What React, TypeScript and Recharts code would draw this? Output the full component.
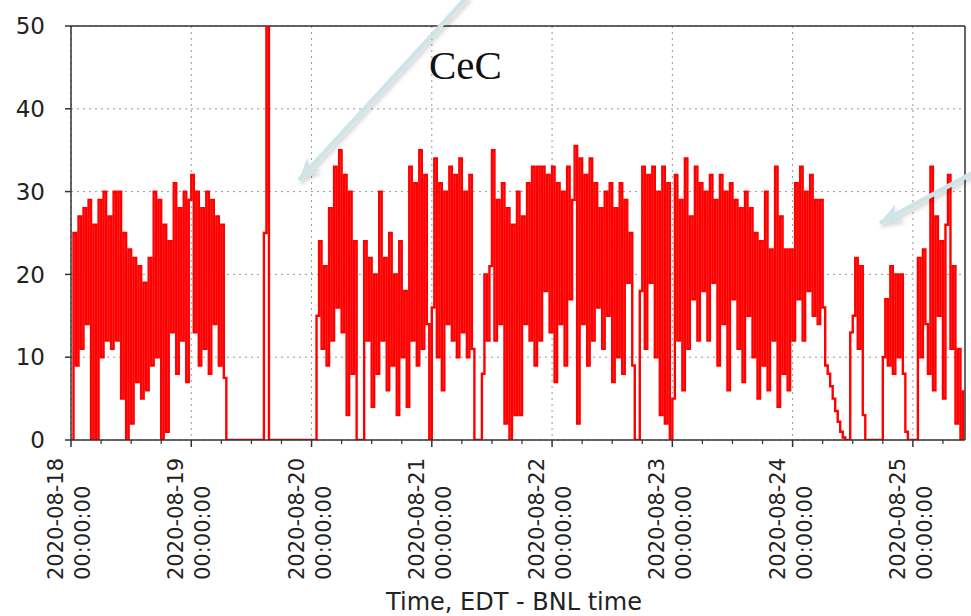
import { LineChart, Line, XAxis, YAxis, CartesianGrid, ReferenceLine } from "recharts";

// CeC signal, one reading per 30 min, one list per day (starting 00:00 EDT)
const day18 = [0, 25, 9, 27, 11, 28, 14, 29, 0, 26, 0, 29, 10, 30, 12, 27, 11, 30, 12, 30, 5, 25, 0, 23, 2, 22, 7, 21, 5, 19, 6, 22, 9, 30, 10, 29, 0, 26, 1, 24, 13, 31, 8, 28, 12, 30, 7, 29];
const day19 = [32, 13, 30, 9, 28, 11, 30, 8, 29, 14, 27, 9, 26, 7.5, 0, 0, 0, 0, 0, 0, 0, 0, 0, 0, 0, 0, 0, 0, 0, 25, 50, 0, 0, 0, 0, 0, 0, 0, 0, 0, 0, 0, 0, 0, 0, 0, 0, 0];
const day20 = [0, 0, 15, 24, 11, 21, 9, 28, 12, 33, 16, 35, 13, 32, 3, 30, 8, 24, 0, 0, 0, 24, 12, 22, 4, 20, 8, 30, 12, 22, 6, 25, 9, 20, 3, 24, 10, 18, 4, 33, 12, 31, 9, 35, 11, 32, 14, 0];
const day21 = [16, 34, 10, 31, 6, 30, 14, 33, 12, 32, 10, 34, 13, 30, 10, 32, 11, 0, 0, 0, 8, 20, 12, 21, 35, 12, 29, 14, 31, 2, 28, 0, 26, 3, 30, 3, 27, 14, 31, 12, 33, 9, 33, 12, 33, 18, 32, 13];
const day22 = [33, 7, 31, 14, 30, 9, 33, 17, 29, 35.5, 2, 34, 14, 32, 9, 34, 12, 31, 16, 28, 11, 30, 15, 31, 7, 28, 10, 31, 8, 29, 19, 25, 9, 0, 0, 18, 33, 11, 32, 19, 33, 10, 30, 3, 33, 2, 31, 0];
const day23 = [5, 32, 12, 29, 6, 34, 11, 27, 17, 33, 12, 31, 18, 30, 12, 32, 19, 29, 9, 32, 14, 30, 6, 31, 17, 29, 11, 28, 7, 30, 15, 28, 10, 25, 5, 24, 9, 30, 6, 23, 12, 33, 4, 27, 8, 23, 6, 23];
const day24 = [12, 31, 17, 33, 12, 30, 18, 32, 15, 29, 14, 29, 16, 9, 8, 6.5, 5, 3.5, 2.2, 1, 0.3, 0, 0, 13, 15, 22, 11, 21, 3, 0, 0, 0, 0, 0, 0, 0, 10, 17, 9, 21, 8, 20, 10, 20, 8, 1, 0, 0];
const day25 = [0, 0, 22, 10, 23, 14, 8, 33, 6, 27, 15, 24, 5, 26, 32, 11, 21, 2, 11, 0, 6];

const days = [day18, day19, day20, day21, day22, day23, day24, day25];
const dayLabels = ["2020-08-18", "2020-08-19", "2020-08-20", "2020-08-21", "2020-08-22", "2020-08-23", "2020-08-24", "2020-08-25"];
const dayTicks = [0, 24, 48, 72, 96, 120, 144, 168];
// every 6 h; the day marks get the long tick and a label
const hourTicks = [0, 6, 12, 18, 24, 30, 36, 42, 48, 54, 60, 66, 72, 78, 84, 90, 96, 102, 108, 114, 120, 126, 132, 138, 144, 150, 156, 162, 168, 174];
const yTicks = [0, 10, 20, 30, 40, 50];
const X_MAX = 178.4;

// hours since 2020-08-18 00:00
const data = days.flatMap((vals, d) => vals.map((v, i) => ({ h: d * 24 + i * 0.5, v })));

const FONT = "'DejaVu Sans', sans-serif";

const TimeTick = ({ x, y, payload }: any) => {
  const h = payload.value;
  const major = h % 24 === 0;
  return (
    <g>
      <line x1={x} y1={y} x2={x} y2={y + (major ? 7 : 4)} stroke="#333" strokeWidth={major ? 1.5 : 1.2} />
      {major && (
        <g transform={`translate(${x},${y + 140}) rotate(-90)`}>
          <text x={0} y={-8} textAnchor="start" fontSize={21} fill="#222" fontFamily={FONT}>{dayLabels[h / 24]}</text>
          <text x={0} y={19} textAnchor="start" fontSize={21} fill="#222" fontFamily={FONT}>00:00:00</text>
        </g>
      )}
    </g>
  );
};

const NoLabel = () => null;

const dayGrid = ({ xAxis, offset }: any) =>
  dayTicks.map((t) =>
    xAxis && typeof xAxis.scale === "function"
      ? xAxis.scale(t)
      : offset.left + (t / X_MAX) * offset.width
  );

export default function App() {
  return (
    <div style={{ position: "relative", width: 971, height: 616, background: "#fff" }}>
      <style>{"body{margin:0}"}</style>
      <LineChart width={971} height={616} data={data} margin={{ top: 26, right: 0, bottom: 0, left: 0 }}>
        <CartesianGrid stroke="#999" strokeDasharray="2 4" verticalCoordinatesGenerator={dayGrid} />
        <XAxis
          dataKey="h"
          type="number"
          domain={[0, X_MAX]}
          ticks={hourTicks}
          interval={0}
          allowDataOverflow
          height={176}
          tickSize={0}
          tickMargin={0}
          tickLine={false}
          tick={<TimeTick />}
          axisLine={{ stroke: "#333", strokeWidth: 1.5 }}
        />
        <YAxis
          domain={[0, 50]}
          ticks={yTicks}
          interval={0}
          allowDataOverflow
          width={71}
          tickSize={6}
          tickMargin={20}
          tick={{ fontSize: 23, fill: "#222", fontFamily: FONT }}
          axisLine={{ stroke: "#333", strokeWidth: 1.5 }}
          tickLine={{ stroke: "#333", strokeWidth: 1.5 }}
        />
        <YAxis
          yAxisId="r"
          orientation="right"
          domain={[0, 50]}
          ticks={yTicks}
          interval={0}
          width={6}
          tickSize={5}
          tick={<NoLabel />}
          axisLine={{ stroke: "#333", strokeWidth: 1.5 }}
          tickLine={{ stroke: "#333", strokeWidth: 1.2 }}
        />
        <ReferenceLine y={50} stroke="#333" strokeWidth={1.5} />
        <Line
          dataKey="v"
          type="stepAfter"
          stroke="#ff0000"
          strokeWidth={2.4}
          dot={false}
          isAnimationActive={false}
        />
      </LineChart>
      <svg width={971} height={616} style={{ position: "absolute", left: 0, top: 0, pointerEvents: "none" }}>
        <defs>
          <marker id="head" markerWidth="26" markerHeight="22" refX="22" refY="11" orient="auto" markerUnits="userSpaceOnUse">
            <path d="M0,2 L22,11 L0,20 L6,11 Z" fill="#cfe4e8" />
          </marker>
          <filter id="sh" x="-20%" y="-20%" width="140%" height="140%">
            <feDropShadow dx="2" dy="3" stdDeviation="2" floodColor="#000" floodOpacity="0.18" />
          </filter>
        </defs>
        <g filter="url(#sh)">
          <line x1={468} y1={-4} x2={299} y2={180} stroke="#cfe4e8" strokeWidth={4.5} markerEnd="url(#head)" />
          <line x1={978} y1={170} x2={880} y2={223} stroke="#cfe4e8" strokeWidth={4.5} markerEnd="url(#head)" />
        </g>
        <text x={429} y={79} fontSize={41} fontFamily="'Liberation Serif', 'Times New Roman', serif" fill="#111">CeC</text>
        <text x={514} y={610} textAnchor="middle" fontSize={24} fontFamily={FONT} fill="#222">Time, EDT - BNL time</text>
      </svg>
    </div>
  );
}
